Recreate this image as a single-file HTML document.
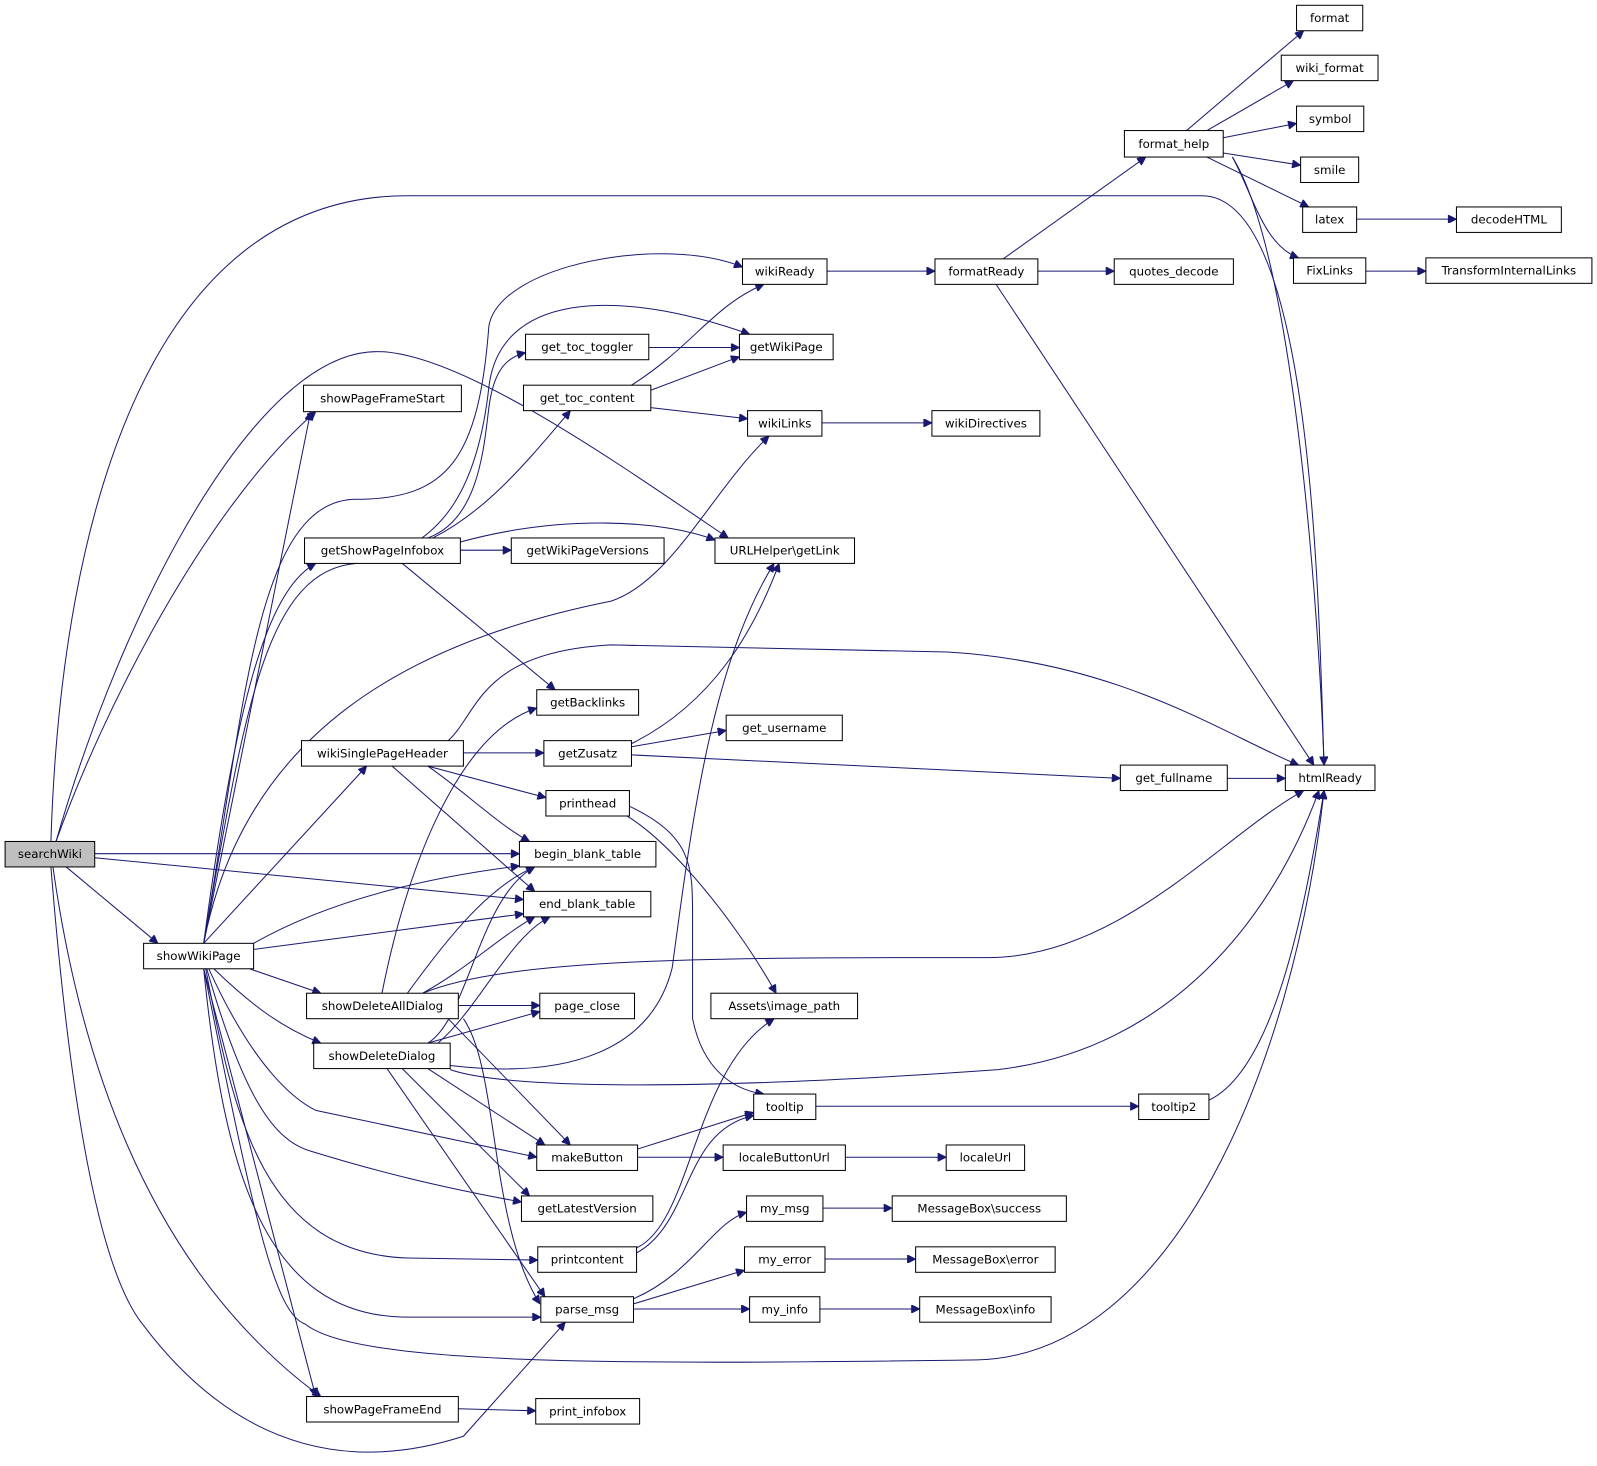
<!DOCTYPE html>
<html><head><meta charset="utf-8"><style>
html,body{margin:0;padding:0;background:#fff;}
svg{display:block;}
text{font-family:"DejaVu Sans","Liberation Sans",sans-serif;font-size:11.6px;fill:#000;text-anchor:middle;dominant-baseline:central;}
.n{fill:#fff;stroke:#000;stroke-width:1;}
.g{fill:#bfbfbf;stroke:#000;stroke-width:1;}
path{fill:none;stroke:#191970;stroke-width:1;marker-end:url(#a);}
</style></head><body>
<svg width="1597" height="1466" viewBox="0 0 1568 1439" xmlns="http://www.w3.org/2000/svg">
<defs><marker id="a" viewBox="0 0 10 10" refX="10" refY="5" markerWidth="10" markerHeight="8" markerUnits="userSpaceOnUse" orient="auto"><path d="M0,0 L10,5 L0,10 z" style="fill:#191970;stroke:#191970;marker-end:none"/></marker></defs>
<!-- edges -->
<path d="M50,826 C60,500 150,192 400,192 L1180,192 C1290,192 1295,600 1300,751"/>
<path d="M55,826 C100,700 200,500 310,404"/>
<path d="M55,826 C120,600 250,345 370,345 C450,345 600,450 715,528"/>
<path d="M93,838 L510,838"/>
<path d="M93,842 L514,883"/>
<path d="M65,851 L155,926"/>
<path d="M52,851 C80,1050 150,1250 315,1371"/>
<path d="M50,851 C70,1100 100,1250 140,1300 C200,1380 300,1460 455,1410 L555,1298"/>
<path d="M200,926 L305,404"/>
<path d="M200,926 C240,700 250,490 350,490 C440,490 470,450 480,320 C490,260 650,230 729,262"/>
<path d="M200,926 C240,700 260,560 350,553 C440,540 470,470 480,380 C490,290 600,280 736,328"/>
<path d="M200,926 C230,700 260,580 310,553"/>
<path d="M200,926 C240,720 400,630 600,590 C660,570 700,480 755,428"/>
<path d="M200,926 L360,752"/>
<path d="M249,926 C330,880 430,860 510,850"/>
<path d="M249,932 L514,897"/>
<path d="M245,951 L315,975"/>
<path d="M210,951 C250,990 280,1010 315,1024"/>
<path d="M200,951 C250,1200 270,1290 300,1300 C350,1340 600,1340 960,1335 C1150,1330 1270,1050 1300,776"/>
<path d="M205,951 C250,1050 290,1080 310,1090 L527,1136"/>
<path d="M203,951 C240,1080 270,1120 305,1130 C370,1150 430,1165 512,1180"/>
<path d="M202,951 C230,1100 260,1230 400,1235 L528,1237"/>
<path d="M200,951 C220,1150 260,1293 400,1293 L531,1293"/>
<path d="M200,951 L310,1371"/>
<path d="M420,528 C470,510 475,440 480,400 C485,360 500,350 516,346"/>
<path d="M425,528 C480,500 520,450 560,403"/>
<path d="M452,532 C550,505 650,510 702,530"/>
<path d="M452,540 L502,540"/>
<path d="M395,553 L545,677"/>
<path d="M440,727 C470,700 470,640 600,633 L930,640 C1100,650 1200,720 1275,751"/>
<path d="M455,739 L534,739"/>
<path d="M420,752 L536,783"/>
<path d="M420,752 C460,780 490,810 520,826"/>
<path d="M385,752 L525,875"/>
<path d="M375,975 C400,850 450,720 527,695"/>
<path d="M400,975 C440,920 480,870 525,851"/>
<path d="M415,975 C460,950 490,920 525,900"/>
<path d="M415,975 C500,940 700,940 970,940 C1100,940 1200,820 1280,776"/>
<path d="M450,987 L530,987"/>
<path d="M440,1000 L560,1124"/>
<path d="M455,1000 C490,1050 480,1200 530,1280"/>
<path d="M420,1024 C460,1000 470,880 525,851"/>
<path d="M430,1024 C470,990 500,920 540,900"/>
<path d="M420,1024 L530,993"/>
<path d="M442,1046 C560,1060 640,1030 660,950 C680,800 700,650 760,553"/>
<path d="M442,1050 C500,1070 700,1070 980,1050 C1150,1030 1250,900 1295,776"/>
<path d="M420,1049 L535,1124"/>
<path d="M395,1049 L520,1174"/>
<path d="M380,1049 L535,1273"/>
<path d="M637,341 L726,341"/>
<path d="M620,378 C680,340 700,300 750,279"/>
<path d="M639,383 L726,350"/>
<path d="M639,400 L734,411"/>
<path d="M620,730 C700,690 740,620 765,553"/>
<path d="M620,733 L713,717"/>
<path d="M620,741 L1100,764"/>
<path d="M590,790 C640,800 720,900 762,975"/>
<path d="M615,790 C680,820 680,850 680,900 L680,1000 C690,1050 720,1070 750,1074"/>
<path d="M626,1128 L740,1092"/>
<path d="M626,1136 L710,1136"/>
<path d="M625,1225 C680,1200 680,1050 760,1000"/>
<path d="M625,1230 C680,1200 670,1110 740,1095"/>
<path d="M622,1275 C680,1250 700,1200 733,1190"/>
<path d="M622,1280 L731,1247"/>
<path d="M622,1285 L736,1285"/>
<path d="M450,1383 L526,1385"/>
<path d="M812,266 L918,266"/>
<path d="M807,415 L915,415"/>
<path d="M801,1086 L1118,1086"/>
<path d="M830,1136 L929,1136"/>
<path d="M808,1186 L876,1186"/>
<path d="M810,1236 L899,1236"/>
<path d="M805,1285 L903,1285"/>
<path d="M985,254 L1125,154"/>
<path d="M1019,266 L1094,266"/>
<path d="M978,279 L1290,751"/>
<path d="M1205,764 L1262,764"/>
<path d="M1187,1080 C1250,1050 1280,900 1300,776"/>
<path d="M1165,128 L1280,30"/>
<path d="M1185,128 L1270,79"/>
<path d="M1201,135 L1273,121"/>
<path d="M1201,150 L1277,162"/>
<path d="M1185,154 L1285,203"/>
<path d="M1210,154 C1230,190 1240,240 1275,253"/>
<path d="M1210,154 C1270,250 1295,600 1300,751"/>
<path d="M1332,215 L1430,215"/>
<path d="M1341,266 L1400,266"/>
<!-- nodes -->
<g>
<rect class="g" x="5" y="826" width="88" height="25"/><text x="49" y="838.5">searchWiki</text>
<rect class="n" x="141" y="926" width="108" height="25"/><text x="195" y="938.5">showWikiPage</text>
<rect class="n" x="298" y="378" width="155" height="26"/><text x="375.5" y="391">showPageFrameStart</text>
<rect class="n" x="299" y="528" width="153" height="25"/><text x="375.5" y="540.5">getShowPageInfobox</text>
<rect class="n" x="296" y="727" width="159" height="25"/><text x="375.5" y="739.5">wikiSinglePageHeader</text>
<rect class="n" x="301" y="975" width="149" height="25"/><text x="375.5" y="987.5">showDeleteAllDialog</text>
<rect class="n" x="308" y="1024" width="134" height="25"/><text x="375" y="1036.5">showDeleteDialog</text>
<rect class="n" x="301" y="1371" width="149" height="25"/><text x="375.5" y="1383.5">showPageFrameEnd</text>
<rect class="n" x="516" y="328" width="121" height="25"/><text x="576.5" y="340.5">get_toc_toggler</text>
<rect class="n" x="514" y="378" width="125" height="25"/><text x="576.5" y="390.5">get_toc_content</text>
<rect class="n" x="502" y="528" width="150" height="25"/><text x="577" y="540.5">getWikiPageVersions</text>
<rect class="n" x="527" y="677" width="100" height="25"/><text x="577" y="689.5">getBacklinks</text>
<rect class="n" x="534" y="727" width="86" height="25"/><text x="577" y="739.5">getZusatz</text>
<rect class="n" x="536" y="776" width="82" height="25"/><text x="577" y="788.5">printhead</text>
<rect class="n" x="510" y="826" width="134" height="25"/><text x="577" y="838.5">begin_blank_table</text>
<rect class="n" x="514" y="875" width="125" height="25"/><text x="576.5" y="887.5">end_blank_table</text>
<rect class="n" x="530" y="975" width="93" height="25"/><text x="576.5" y="987.5">page_close</text>
<rect class="n" x="527" y="1124" width="99" height="25"/><text x="576.5" y="1136.5">makeButton</text>
<rect class="n" x="512" y="1174" width="129" height="25"/><text x="576.5" y="1186.5">getLatestVersion</text>
<rect class="n" x="528" y="1224" width="97" height="25"/><text x="576.5" y="1236.5">printcontent</text>
<rect class="n" x="531" y="1273" width="91" height="25"/><text x="576.5" y="1285.5">parse_msg</text>
<rect class="n" x="526" y="1373" width="102" height="25"/><text x="577" y="1385.5">print_infobox</text>
<rect class="n" x="729" y="254" width="83" height="25"/><text x="770.5" y="266.5">wikiReady</text>
<rect class="n" x="726" y="328" width="92" height="25"/><text x="772" y="340.5">getWikiPage</text>
<rect class="n" x="734" y="403" width="73" height="25"/><text x="770.5" y="415.5">wikiLinks</text>
<rect class="n" x="702" y="528" width="137" height="25"/><text x="770.5" y="540.5">URLHelper\getLink</text>
<rect class="n" x="713" y="702" width="114" height="25"/><text x="770" y="714.5">get_username</text>
<rect class="n" x="698" y="975" width="144" height="25"/><text x="770" y="987.5">Assets\image_path</text>
<rect class="n" x="740" y="1074" width="61" height="25"/><text x="770.5" y="1086.5">tooltip</text>
<rect class="n" x="710" y="1124" width="120" height="25"/><text x="770" y="1136.5">localeButtonUrl</text>
<rect class="n" x="733" y="1174" width="75" height="25"/><text x="770.5" y="1186.5">my_msg</text>
<rect class="n" x="731" y="1224" width="79" height="25"/><text x="770.5" y="1236.5">my_error</text>
<rect class="n" x="736" y="1273" width="69" height="25"/><text x="770.5" y="1285.5">my_info</text>
<rect class="n" x="918" y="254" width="101" height="25"/><text x="968.5" y="266.5">formatReady</text>
<rect class="n" x="1094" y="254" width="117" height="25"/><text x="1152.5" y="266.5">quotes_decode</text>
<rect class="n" x="915" y="403" width="106" height="25"/><text x="968" y="415.5">wikiDirectives</text>
<rect class="n" x="1100" y="751" width="105" height="25"/><text x="1152.5" y="763.5">get_fullname</text>
<rect class="n" x="1118" y="1074" width="69" height="25"/><text x="1152.5" y="1086.5">tooltip2</text>
<rect class="n" x="929" y="1124" width="77" height="25"/><text x="967.5" y="1136.5">localeUrl</text>
<rect class="n" x="876" y="1174" width="171" height="25"/><text x="961.5" y="1186.5">MessageBox\success</text>
<rect class="n" x="899" y="1224" width="137" height="25"/><text x="967.5" y="1236.5">MessageBox\error</text>
<rect class="n" x="903" y="1273" width="129" height="25"/><text x="967.5" y="1285.5">MessageBox\info</text>
<rect class="n" x="1104" y="128" width="97" height="26"/><text x="1152.5" y="141">format_help</text>
<rect class="n" x="1262" y="751" width="88" height="25"/><text x="1306" y="763.5">htmlReady</text>
<rect class="n" x="1273" y="5" width="65" height="25"/><text x="1305.5" y="17.5">format</text>
<rect class="n" x="1258" y="54" width="95" height="25"/><text x="1305.5" y="66.5">wiki_format</text>
<rect class="n" x="1273" y="104" width="66" height="25"/><text x="1306" y="116.5">symbol</text>
<rect class="n" x="1277" y="154" width="57" height="25"/><text x="1305.5" y="166.5">smile</text>
<rect class="n" x="1279" y="203" width="53" height="25"/><text x="1305.5" y="215.5">latex</text>
<rect class="n" x="1270" y="253" width="71" height="25"/><text x="1305.5" y="265.5">FixLinks</text>
<rect class="n" x="1430" y="203" width="103" height="25"/><text x="1481.5" y="215.5">decodeHTML</text>
<rect class="n" x="1400" y="253" width="163" height="25"/><text x="1481.5" y="265.5">TransformInternalLinks</text>
</g>
</svg>
</body></html>
